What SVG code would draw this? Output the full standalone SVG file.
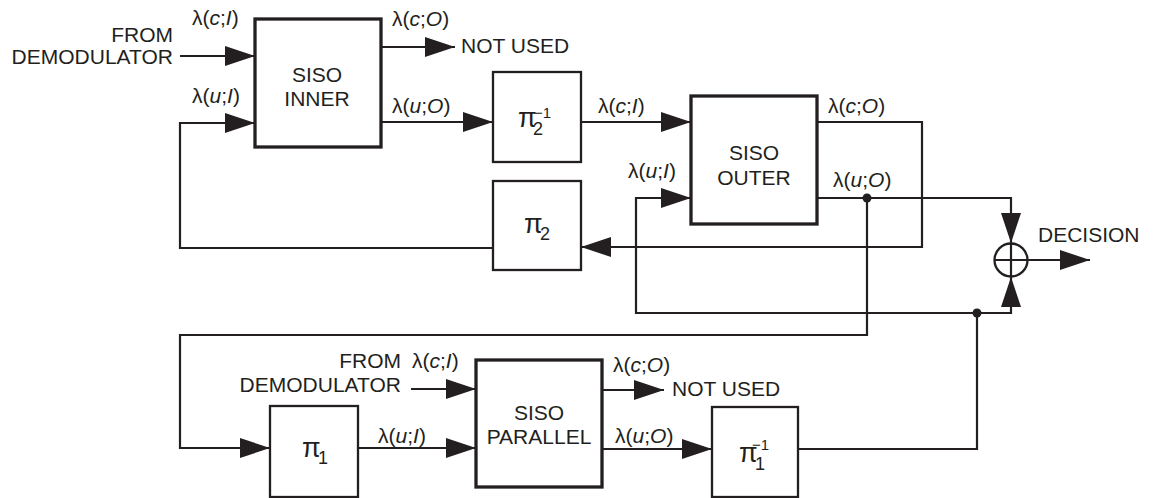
<svg xmlns="http://www.w3.org/2000/svg" width="1153" height="498" viewBox="0 0 1153 498">
<style>
text{font-family:"Liberation Sans",Arial,sans-serif;fill:#231f20}
.t{font-size:21px}
.pi{font-size:27px}
.sub{font-size:18px}
.sup{font-size:15px}
.siso{fill:#fff;stroke:#231f20;stroke-width:3.3}
.box{fill:#fff;stroke:#231f20;stroke-width:2.3}
.ln{fill:none;stroke:#231f20;stroke-width:2.2}
.arr{fill:none;stroke:#231f20;stroke-width:2.2;marker-end:url(#ah)}
.m{text-anchor:middle}
.e{text-anchor:end}
</style>
<defs>
<marker id="ah" markerUnits="userSpaceOnUse" markerWidth="30" markerHeight="20" refX="30" refY="10" orient="auto" viewBox="0 0 30 20">
<path d="M0,0 L30,10 L0,20 z" fill="#231f20"/>
</marker>
</defs>
<rect width="1153" height="498" fill="#fff"/>
<g id="connectors">
<path class="arr" d="M180,56 H255"/>
<path class="arr" d="M493,248 H180 V123 H255"/>
<path class="arr" d="M381,47 H455"/>
<path class="arr" d="M381,122 H493"/>
<path class="arr" d="M581,122 H691"/>
<path class="arr" d="M817,122 H922 V247 H581"/>
<path class="arr" d="M817,198 H1011 V243"/>
<path class="arr" d="M867,198 V335 H180 V448 H270"/>
<path class="arr" d="M358,448 H476"/>
<path class="arr" d="M411,389 H476"/>
<path class="arr" d="M602,390 H664"/>
<path class="arr" d="M602,449 H712"/>
<path class="ln" d="M798,449 H977 V313"/>
<path class="arr" d="M977,313 H1011 V277"/>
<path class="arr" d="M977,313 H636 V198 H691"/>
<path class="arr" d="M1027,260 H1090"/>
<circle cx="867" cy="198" r="4.5" fill="#231f20"/>
<circle cx="977" cy="313" r="4.5" fill="#231f20"/>
<g class="t">
<text class="t e" x="173" y="42">FROM</text>
<text class="t e" x="173" y="64">DEMODULATOR</text>
<text class="t" x="192" y="25">λ(<tspan font-style="italic">c</tspan>;<tspan font-style="italic">I</tspan>)</text>
<text class="t" x="192" y="103">λ(<tspan font-style="italic">u</tspan>;<tspan font-style="italic">I</tspan>)</text>
<text class="t" x="392" y="26">λ(<tspan font-style="italic">c</tspan>;<tspan font-style="italic">O</tspan>)</text>
<text class="t" x="461" y="53">NOT USED</text>
<text class="t" x="392" y="113">λ(<tspan font-style="italic">u</tspan>;<tspan font-style="italic">O</tspan>)</text>
<text class="t" x="598" y="113">λ(<tspan font-style="italic">c</tspan>;<tspan font-style="italic">I</tspan>)</text>
<text class="t" x="628" y="178">λ(<tspan font-style="italic">u</tspan>;<tspan font-style="italic">I</tspan>)</text>
<text class="t" x="828" y="113">λ(<tspan font-style="italic">c</tspan>;<tspan font-style="italic">O</tspan>)</text>
<text class="t" x="833" y="187">λ(<tspan font-style="italic">u</tspan>;<tspan font-style="italic">O</tspan>)</text>
<text class="t" x="1038" y="242">DECISION</text>
<text class="t e" x="401" y="368">FROM</text>
<text class="t e" x="401" y="392">DEMODULATOR</text>
<text class="t" x="412" y="368">λ(<tspan font-style="italic">c</tspan>;<tspan font-style="italic">I</tspan>)</text>
<text class="t" x="378" y="443">λ(<tspan font-style="italic">u</tspan>;<tspan font-style="italic">I</tspan>)</text>
<text class="t" x="613" y="372">λ(<tspan font-style="italic">c</tspan>;<tspan font-style="italic">O</tspan>)</text>
<text class="t" x="672" y="396">NOT USED</text>
<text class="t" x="615" y="443">λ(<tspan font-style="italic">u</tspan>;<tspan font-style="italic">O</tspan>)</text>
</g>
</g>
<g id="siso-inner">
<rect class="siso" x="255" y="19" width="126" height="128"/>
<text class="t m" x="317" y="82">SISO</text>
<text class="t m" x="317" y="106">INNER</text>
</g>
<g id="pi2-inv">
<rect class="box" x="493" y="72" width="88" height="90"/>
<text><tspan class="pi" x="518" y="127">π</tspan><tspan class="sub" x="533" y="135">2</tspan><tspan class="sup" x="534" y="118">−1</tspan></text>
</g>
<g id="pi2">
<rect class="box" x="493" y="181" width="88" height="89"/>
<text><tspan class="pi" x="524" y="233">π</tspan><tspan class="sub" x="540" y="240">2</tspan></text>
</g>
<g id="siso-outer">
<rect class="siso" x="691" y="96" width="126" height="128"/>
<text class="t m" x="754" y="160">SISO</text>
<text class="t m" x="754" y="185">OUTER</text>
</g>
<g id="sum">
<circle cx="1011" cy="260" r="16.5" fill="#fff" stroke="#231f20" stroke-width="2.3"/>
<path class="ln" d="M994.5,260 H1027.5 M1011,243.5 V276.5"/>
</g>
<g id="pi1">
<rect class="box" x="270" y="406" width="88" height="91"/>
<text><tspan class="pi" x="302" y="457">π</tspan><tspan class="sub" x="318" y="464">1</tspan></text>
</g>
<g id="siso-parallel">
<rect class="siso" x="476" y="360" width="126" height="127"/>
<text class="t m" x="539" y="420">SISO</text>
<text class="t m" x="539" y="444">PARALLEL</text>
</g>
<g id="pi1-inv">
<rect class="box" x="712" y="407" width="86" height="90"/>
<text><tspan class="pi" x="739" y="462">π</tspan><tspan class="sub" x="755" y="470">1</tspan><tspan class="sup" x="752" y="450">−1</tspan></text>
</g>
</svg>
